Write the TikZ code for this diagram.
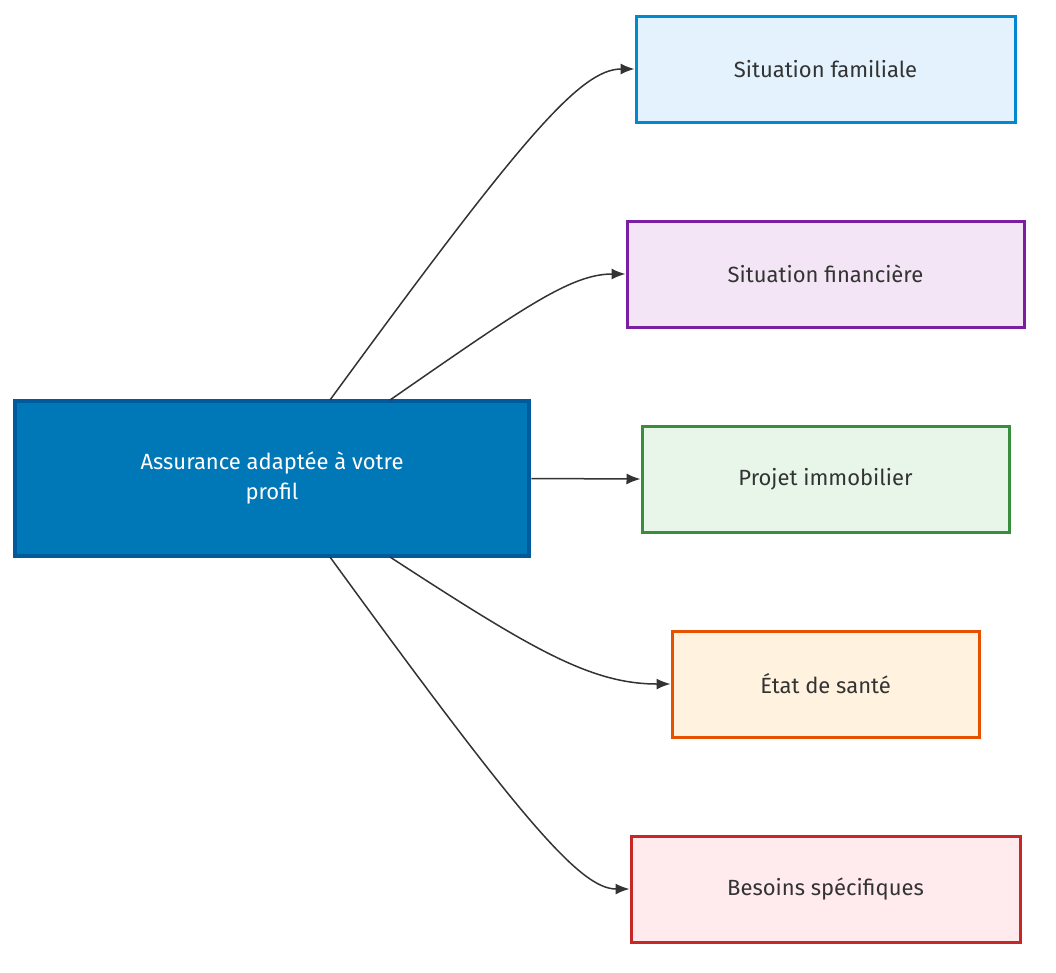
\documentclass[tikz,border=0pt]{standalone}
\usepackage{fontspec}
\setmainfont{Fira Sans}
\usetikzlibrary{arrows.meta}
\definecolor{mainfill}{HTML}{0077B6}
\definecolor{mainline}{HTML}{005A9C}
\definecolor{txt}{HTML}{333333}
\definecolor{famfill}{HTML}{E3F2FD}\definecolor{famline}{HTML}{0288D1}
\definecolor{finfill}{HTML}{F3E5F5}\definecolor{finline}{HTML}{7B1FA2}
\definecolor{profill}{HTML}{E8F5E9}\definecolor{proline}{HTML}{388E3C}
\definecolor{santefill}{HTML}{FFF3E0}\definecolor{santeline}{HTML}{E65100}
\definecolor{besfill}{HTML}{FFEBEE}\definecolor{besline}{HTML}{C62828}
\tikzset{
  box/.style={draw, line width=3pt, text=txt, minimum height=106pt, inner sep=0pt,
    font=\fontsize{22}{30}\selectfont},
  link/.style={draw=txt, line width=1.5pt, -{Latex[length=14pt,width=11pt]}}
}
\begin{document}
\begin{tikzpicture}[x=1pt,y=-1pt]
  \useasboundingbox (0,0) rectangle (1056,972);
  % main node
  \node[box, fill=mainfill, draw=mainline, line width=4.5pt, text=white, minimum width=514pt,
    minimum height=155pt, align=center] (profil) at (272,478.5) {Assurance adaptée à votre\\profil};
  % targets
  \node[box, fill=famfill, draw=famline, minimum width=379pt] (famille) at (825.5,69) {Situation familiale};
  \node[box, fill=finfill, draw=finline, minimum width=397pt] (finance) at (825.5,274) {Situation financière};
  \node[box, fill=profill, draw=proline, minimum width=367pt] (projet) at (825.5,479) {Projet immobilier};
  \node[box, fill=santefill, draw=santeline, minimum width=307pt] (sante) at (825.5,684) {État de santé};
  \node[box, fill=besfill, draw=besline, minimum width=389pt] (besoins) at (825.5,889) {Besoins spécifiques};
  % links
  \coordinate (t1) at (330,400);
  \coordinate (t2) at (390,400);
  \coordinate (b1) at (330,557);
  \coordinate (b2) at (390,557);
  \path[link] (t1) .. controls (520,140) and (580,69) .. (famille.west);
  \path[link] (t2) .. controls (520,310) and (570,274) .. (finance.west);
  \path[link] (profil.east) -- (projet.west);
  \path[link] (b2) .. controls (530,648) and (590,684) .. (sante.west);
  \path[link] (b1) .. controls (520,818) and (580,889) .. (besoins.west);
\end{tikzpicture}
\end{document}
